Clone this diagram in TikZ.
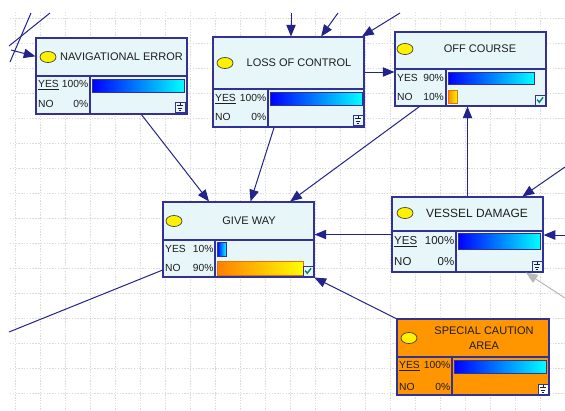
\documentclass[tikz,border=0pt]{standalone}
\usepackage{fontspec}
\setmainfont{Liberation Sans}
\usetikzlibrary{arrows.meta, fit, calc}
\definecolor{cLine}{RGB}{35,35,140}
\definecolor{cBorder}{RGB}{50,50,150}
\definecolor{cPane}{RGB}{230,246,249}
\definecolor{cCaution}{RGB}{255,150,0}
\definecolor{cGrid}{RGB}{220,220,220}
\definecolor{cCheck}{RGB}{0,130,120}
\definecolor{cText}{RGB}{30,30,30}
\tikzset{
	bnbox/.style   ={rectangle, draw=cBorder, line width=0.9pt, inner sep=0pt, fill=cPane},
	divline/.style ={draw=cBorder, line width=0.9pt},
	lamp/.style    ={fill=yellow, draw=black!75, line width=0.6pt},
	headtext/.style={inner sep=0pt, text=cText, font=\fontsize{9.4}{11}\selectfont, align=center},
	rowtext/.style ={anchor=west, inner sep=0pt, text=cText, text width=#1, font=\fontsize{8.8}{9}\selectfont},
	bluebar/.style ={left color=blue, right color=cyan, draw=cBorder, line width=0.5pt},
	orangebar/.style={left color=orange, right color=yellow, draw=orange!90!black, line width=0.5pt},
	iconbox/.style ={rectangle, draw=cBorder, line width=0.7pt, fill=cPane, minimum size=0.3cm, inner sep=0pt},
	gridline/.style={draw=cGrid, line width=0.35pt, dash pattern=on 1.2pt off 1.2pt},
	% influence arcs
	link/.style    ={draw=cLine, line width=0.85pt, -{Triangle[length=10pt, width=8pt]}},
	plainlink/.style={draw=cLine, line width=0.85pt},
}
% small evidence marks drawn inside an icon node
\newcommand{\groundmark}[1]{%
	\draw[cText, line width=0.5pt] ([yshift=3.3pt]#1.center) -- ([yshift=1.2pt]#1.center)
		([xshift=-2.6pt,yshift=1.2pt]#1.center) -- ([xshift=2.6pt,yshift=1.2pt]#1.center)
		([xshift=-1.8pt,yshift=-0.7pt]#1.center) -- ([xshift=1.8pt,yshift=-0.7pt]#1.center)
		([xshift=-0.9pt,yshift=-2.5pt]#1.center) -- ([xshift=0.9pt,yshift=-2.5pt]#1.center);}
\newcommand{\tickmark}[1]{%
	\draw[cCheck, line width=1.2pt] ([xshift=-2.4pt,yshift=0.3pt]#1.center) -- ([xshift=-0.6pt,yshift=-1.9pt]#1.center) -- ([xshift=2.6pt,yshift=2.3pt]#1.center);}

\begin{document}
\begin{tikzpicture}[x=0.03cm, y=-0.03cm]
	\useasboundingbox (0,0) rectangle (565,410);
	\fill[white] (0,0) rectangle (565,410);
	% background grid
	\foreach \gx in {15,40,...,565} \draw[gridline] (\gx,12) -- (\gx,410);
	\foreach \gy in {18,43,...,410} \draw[gridline] (10,\gy) -- (565,\gy);

	% navigational error
	\node[bnbox, fit={(36,38) (187,114)}] (nav) {};
	\draw[divline] (36,76) -- (187,76) (90,76) -- (90,114);
	\filldraw[lamp] (48,57) ellipse [x radius=8, y radius=5.5];
	\node[headtext, anchor=west] (navT) at (60,57) {NAVIGATIONAL ERROR};
	\node[rowtext=1.5cm] (navY) at (38,85) {\underline{YES}\hfill 100\%};
	\node[rowtext=1.5cm] (navN) at (38,104) {NO\hfill 0\%};
	\path[bluebar] (92,79) rectangle (184,92);
	\node[iconbox] (navI) at (180,107) {};
	\groundmark{navI}

	% loss of control
	\node[bnbox, fit={(213,37) (364,127)}] (loss) {};
	\draw[divline] (213,89) -- (364,89) (268,89) -- (268,127);
	\filldraw[lamp] (225,63) ellipse [x radius=8, y radius=5.5];
	\node[headtext] (lossT) at (299,63) {LOSS OF CONTROL};
	\node[rowtext=1.53cm] (lossY) at (215,99) {\underline{YES}\hfill 100\%};
	\node[rowtext=1.53cm] (lossN) at (215,117) {NO\hfill 0\%};
	\path[bluebar] (270,92) rectangle (362,105);
	\node[iconbox] (lossI) at (358,120) {};
	\groundmark{lossI}

	% off course
	\node[bnbox, fit={(395,32) (546,106)}] (off) {};
	\draw[divline] (395,69) -- (546,69) (446,69) -- (446,106);
	\filldraw[lamp] (405,49) ellipse [x radius=8, y radius=5.5];
	\node[headtext] (offT) at (480,49) {OFF COURSE};
	\node[rowtext=1.4cm] (offY) at (397,78) {YES\hfill 90\%};
	\node[rowtext=1.4cm] (offN) at (397,97) {NO\hfill 10\%};
	\path[bluebar] (448,72) rectangle (534,84);
	\path[orangebar] (448,90) rectangle (457,103);
	\node[iconbox] (offI) at (540,100) {};
	\tickmark{offI}

	% give way
	\node[bnbox, fit={(163,202) (314,277)}] (give) {};
	\draw[divline] (163,240) -- (314,240) (215,240) -- (215,277);
	\filldraw[lamp] (174,221) ellipse [x radius=8, y radius=5.5];
	\node[headtext] (giveT) at (249,221) {GIVE WAY};
	\node[rowtext=1.45cm] (giveY) at (165,249) {YES\hfill 10\%};
	\node[rowtext=1.45cm] (giveN) at (165,268) {NO\hfill 90\%};
	\path[bluebar] (217,242) rectangle (226,256);
	\path[orangebar] (217,261) rectangle (303,275);
	\node[iconbox] (giveI) at (308,271) {};
	\tickmark{giveI}

	% vessel damage
	\node[bnbox, fit={(392,197) (543,272)}] (vessel) {};
	\draw[divline] (392,231) -- (543,231) (456,231) -- (456,272);
	\filldraw[lamp] (405,213) ellipse [x radius=8, y radius=5.5];
	\node[headtext, font=\fontsize{10.2}{12}\selectfont] (vesselT) at (477,213) {VESSEL DAMAGE};
	\node[rowtext=1.8cm, font=\fontsize{9.8}{10}\selectfont] (vesselY) at (394,242) {\underline{YES}\hfill 100\%};
	\node[rowtext=1.8cm, font=\fontsize{9.8}{10}\selectfont] (vesselN) at (394,262) {NO\hfill 0\%};
	\path[bluebar] (458,233) rectangle (540,249);
	\node[iconbox] (vesselI) at (537,266) {};
	\groundmark{vesselI}

	% special caution area
	\node[bnbox, fill=cCaution, fit={(397,319) (549,395)}] (special) {};
	\draw[divline] (397,357) -- (549,357) (452,357) -- (452,395);
	\filldraw[lamp] (409,338) ellipse [x radius=8, y radius=5.5];
	\node[headtext, font=\fontsize{9.4}{13}\selectfont] (specialT) at (484,338) {SPECIAL CAUTION\\AREA};
	\node[rowtext=1.53cm] (specialY) at (399,366) {\underline{YES}\hfill 100\%};
	\node[rowtext=1.53cm] (specialN) at (399,387) {NO\hfill 0\%};
	\path[bluebar] (454,360) rectangle (546,373);
	\node[iconbox, fill=white] (specialI) at (543,389) {};
	\groundmark{specialI}

	% arcs between the nodes
	\draw[link] (nav) -- (give);
	\draw[link] (loss) -- (give);
	\draw[link] (off) -- (give);
	\draw[link] ([yshift=-0.09cm]off.west -| loss.east) -- ([yshift=-0.09cm]off.west);
	\draw[link] (vessel.west) -- (vessel.west -| give.east);
	\draw[link] (vessel.north) -- (vessel.north |- off.south);
	\draw[link] (special) -- (give);

	% arcs from nodes outside the view
	\coordinate (inA) at (291,13);
	\coordinate (inB) at (338,13);
	\coordinate (inC) at (400,13);
	\coordinate (inD) at (11,50);
	\coordinate (inE) at (565,167);
	\coordinate (inF) at (565,235);
	\coordinate (inG) at (565,298);
	\coordinate (outA) at (9,332);
	\coordinate (crossA) at (31,13);
	\coordinate (crossB) at (10,62);
	\coordinate (crossC) at (50,13);
	\coordinate (crossD) at (9,46);
	\draw[link] (inA) -- (inA |- loss.north);
	\draw[link] (inB) -- (loss);
	\draw[link] (inC) -- (loss);
	\draw[link] (inD) -- (nav);
	\draw[link] (inE) -- (vessel);
	\draw[link] (inF) -- (inF -| vessel.east);
	\draw[link, draw=gray!55] (inG) -- (vessel);
	\draw[plainlink] (give) -- (outA);
	\draw[plainlink] (crossA) -- (crossB);
	\draw[plainlink] (crossC) -- (crossD);
\end{tikzpicture}
\end{document}
